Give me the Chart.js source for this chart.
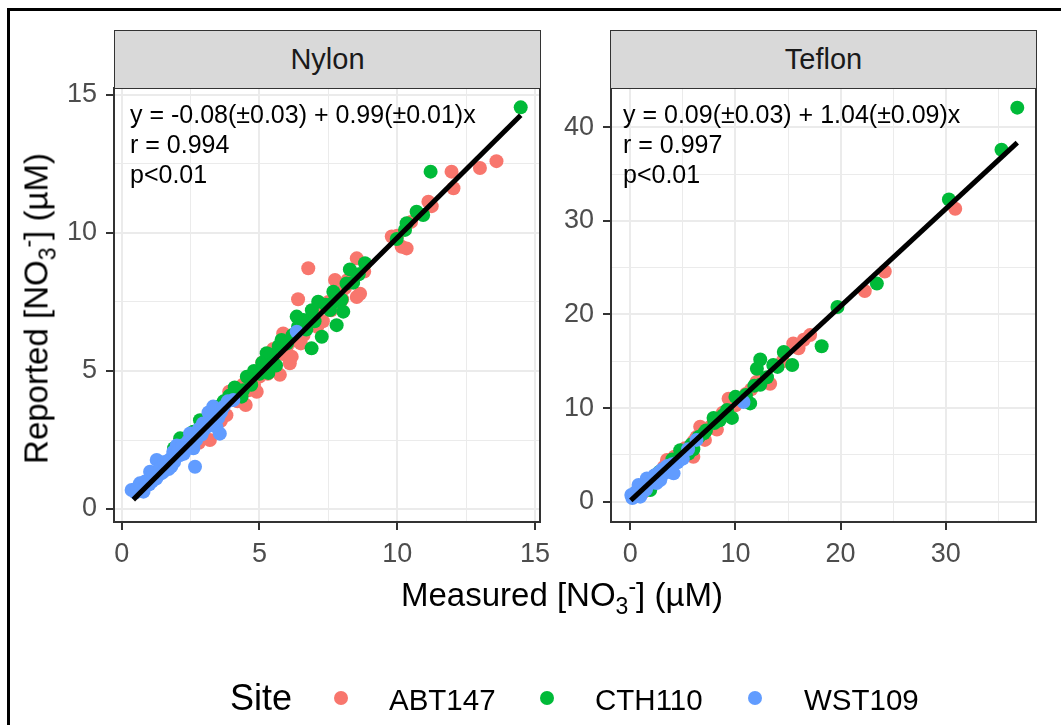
<!DOCTYPE html>
<html>
<head>
<meta charset="utf-8">
<script src="https://cdn.jsdelivr.net/npm/chart.js@4.4.1/dist/chart.umd.min.js"></script>
<style>
  html, body { margin: 0; padding: 0; background: #fff; }
  body { width: 1061px; height: 725px; position: relative; overflow: hidden;
         font-family: "Liberation Sans", Arial, sans-serif; }
  canvas { position: absolute; left: 0; top: 0; }
  .frame { position: absolute; left: 7px; top: 8px; width: 1100px; height: 800px;
           border: 3px solid #000; }
  .strip { position: absolute; top: 30px; height: 59px; background: #d9d9d9;
           border: 1.5px solid #333; box-sizing: border-box; text-align: center;
           font-size: 29px; line-height: 56px; color: #1a1a1a; }
  .note { position: absolute; font-size: 25px; line-height: 30px; color: #000; white-space: pre; }
  .ttl { position: absolute; font-size: 33px; line-height: 33px; height: 33px; color: #000; white-space: nowrap; }
  .sub { position: relative; font-size: 23px; top: 8px; }
  .sup { position: relative; font-size: 23px; top: -12px; }
  .lg { position: absolute; font-size: 29.5px; line-height: 30px; color: #000; white-space: nowrap; }
  .dot { position: absolute; width: 14px; height: 14px; border-radius: 50%; }
</style>
</head>
<body>
<div class="frame"></div>
<canvas id="nylon" width="1061" height="725"></canvas>
<canvas id="teflon" width="1061" height="725"></canvas>

<div class="strip" style="left:114px;width:427px;">Nylon</div>
<div class="strip" style="left:610px;width:427px;">Teflon</div>

<div class="note" style="left:130px;top:99px;">y = -0.08(±0.03) + 0.99(±0.01)x
r = 0.994
p&lt;0.01</div>
<div class="note" style="left:623px;top:99px;">y = 0.09(±0.03) + 1.04(±0.09)x
r = 0.997
p&lt;0.01</div>

<div class="ttl" style="left:401px;top:578px;">Measured [NO<span class="sub">3</span><span class="sup">-</span>] (µM)</div>
<div class="ttl" style="left:-174px;top:292px;width:420px;text-align:center;transform:rotate(-90deg);">Reported [NO<span class="sub">3</span><span class="sup">-</span>] (µM)</div>

<div class="lg" style="left:230px;top:680px;font-size:36px;line-height:36px;">Site</div>
<div class="dot" style="left:334px;top:691px;background:#F8766D;"></div>
<div class="lg" style="left:389px;top:685px;">ABT147</div>
<div class="dot" style="left:540px;top:691px;background:#00BA38;"></div>
<div class="lg" style="left:595px;top:685px;">CTH110</div>
<div class="dot" style="left:748px;top:691px;background:#619CFF;"></div>
<div class="lg" style="left:804px;top:685px;">WST109</div>

<script>
// site colours (ggplot hue defaults)
const sites = ['ABT147', 'CTH110', 'WST109'];
const siteColors = ['#F8766D', '#00BA38', '#619CFF'];

// Nylon panel, [measured, reported]
const nylonABT = [[1.8,1.7],[2.2,2.1],[2.4,2.6],[2.6,2.3],[2.8,2.4],[2.9,2.6],[3.0,3.0],[3.2,2.5],[3.4,3.1],[3.5,3.6],
  [3.6,3.2],[3.8,3.4],[3.9,4.25],[4.1,4.2],[4.2,3.9],[4.3,4.0],[4.4,4.5],[4.5,3.77],[4.6,4.3],[4.8,4.5],
  [4.9,4.25],[5.0,4.8],[5.1,5.3],[5.2,5.0],[5.3,4.9],[5.4,5.3],[5.5,5.8],[5.74,4.86],[5.6,5.6],[5.86,6.36],
  [5.9,5.6],[6.1,5.28],[6.17,5.52],[6.0,5.9],[6.3,6.1],[6.5,6.0],[6.4,7.6],[6.77,8.72],[6.6,6.3],[6.8,6.7],
  [7.0,7.0],[7.1,6.6],[7.2,7.3],[7.3,6.8],[7.5,7.5],[7.6,7.2],[7.74,8.3],[7.9,7.4],[8.0,7.6],[8.1,8.0],
  [8.2,8.3],[8.53,9.08],[8.53,7.68],[8.65,7.8],[8.4,8.3],[8.8,8.6],[9.8,9.87],[10.0,9.9],[10.16,9.5],[10.34,9.44],
  [10.5,10.4],[11.13,11.13],[11.25,10.97],[12.04,11.62],[11.97,12.22],[13.0,12.35],[13.6,12.6]];
const nylonCTH = [[1.9,2.2],[2.12,2.56],[2.3,2.5],[2.6,2.8],[2.84,3.22],[3.1,3.3],[3.3,3.4],[3.5,3.7],[3.7,3.9],[3.9,4.1],
  [4.1,4.4],[4.35,4.07],[4.4,4.3],[4.54,4.79],[4.7,4.5],[4.8,5.0],[5.0,4.9],[5.1,5.3],[5.26,5.64],[5.32,4.93],
  [5.4,5.6],[5.5,5.3],[5.6,5.2],[5.7,5.9],[5.8,6.12],[6.0,6.0],[6.2,6.3],[6.35,6.97],[6.4,6.6],[6.6,6.85],
  [6.7,6.5],[6.89,5.82],[6.9,7.2],[7.0,6.8],[7.13,7.51],[7.26,6.24],[7.4,7.4],[7.56,7.21],[7.68,7.87],[7.7,7.5],
  [7.8,6.66],[7.98,7.58],[8.04,7.15],[8.16,8.17],[8.28,8.68],[8.4,8.2],[8.6,8.5],[8.83,8.9],[9.98,9.78],
  [10.28,10.11],[10.34,10.35],[10.7,10.77],[10.94,10.65],[11.21,12.22],[14.48,14.55]];
const nylonWST = [[0.36,0.69],[0.5,0.6],[0.55,0.75],[0.66,0.93],[0.7,0.7],[0.79,0.63],[0.85,1.0],[0.9,0.85],[1.0,0.9],
  [1.03,1.35],[1.1,1.0],[1.15,1.3],[1.25,1.1],[1.27,1.78],[1.3,1.2],[1.4,1.5],[1.45,1.3],[1.51,1.35],[1.55,1.7],
  [1.6,1.6],[1.7,1.45],[1.75,1.8],[1.8,1.55],[1.87,2.07],[1.9,1.7],[1.95,2.0],[2.0,2.3],[2.05,2.1],[2.1,1.95],
  [2.2,2.3],[2.25,2.0],[2.36,2.19],[2.4,2.45],[2.48,2.74],[2.5,2.3],[2.55,2.6],[2.6,2.2],[2.66,1.53],[2.7,2.5],
  [2.8,2.9],[2.9,2.7],[2.95,3.1],[3.0,2.9],[3.1,3.0],[3.15,3.5],[3.2,3.3],[3.3,3.2],[3.32,3.71],[3.4,3.6],
  [3.44,2.97],[3.5,3.3],[3.56,2.73],[3.6,3.5],[3.7,3.7],[3.85,3.9],[4.05,3.95],[6.35,6.42]];
const nylonFit = [[0.42,0.34],[14.48,14.26]];

// Teflon panel
const teflonABT = [[1.0,1.2],[1.2,1.0],[1.5,1.6],[1.8,2.0],[2.0,2.2],[2.2,2.6],[2.5,2.4],[2.8,3.0],[3.0,3.3],[3.2,3.7],
  [3.49,4.45],[3.8,4.0],[4.0,4.2],[4.2,4.8],[4.5,4.6],[4.8,5.0],[5.0,5.4],[5.2,5.7],[5.5,5.2],[5.8,6.0],
  [6.0,4.8],[6.0,6.4],[6.3,6.9],[6.65,8.0],[6.8,7.2],[7.1,6.6],[7.5,7.9],[7.8,8.2],[8.24,7.7],[8.8,9.5],
  [9.35,11.0],[10.0,10.3],[10.5,10.8],[11.0,11.5],[11.5,12.0],[12.0,12.8],[12.5,13.2],[13.3,12.6],[14.0,14.5],
  [14.5,15.0],[15.5,16.9],[16.0,16.4],[16.5,17.3],[17.1,17.8],[22.3,22.5],[24.2,24.6],[30.9,31.3]];
const teflonCTH = [[0.5,0.7],[0.8,0.9],[1.2,1.4],[1.5,1.8],[1.9,1.25],[2.2,2.0],[2.5,2.9],[2.8,3.2],[3.0,3.1],[3.5,3.4],
  [4.0,4.5],[4.3,4.3],[4.75,5.5],[5.2,5.0],[5.55,5.15],[5.8,6.1],[6.0,5.6],[6.5,6.9],[7.0,7.3],[7.2,7.6],
  [7.92,8.95],[8.0,8.4],[8.5,8.7],[8.8,9.2],[9.2,9.8],[9.67,8.95],[10.0,11.2],[10.5,11.0],[11.0,11.4],[11.4,10.5],
  [11.8,12.4],[12.04,14.2],[12.36,15.2],[12.36,12.5],[13.0,13.3],[13.6,14.6],[14.0,14.4],[14.6,16.0],[15.4,14.6],
  [18.2,16.6],[19.7,20.8],[23.45,23.3],[30.3,32.3],[35.3,37.6],[36.8,42.1]];
const teflonWST = [[0.1,0.72],[0.2,0.4],[0.3,0.5],[0.4,0.8],[0.5,1.0],[0.6,0.6],[0.7,1.2],[0.79,1.78],[0.9,1.4],
  [0.95,0.54],[1.0,0.8],[1.2,1.1],[1.3,1.6],[1.5,1.3],[1.58,2.49],[1.7,2.0],[1.8,1.9],[2.0,2.1],[2.2,2.5],
  [2.3,2.8],[2.5,2.0],[2.6,2.6],[2.7,3.1],[2.85,2.3],[3.0,3.4],[3.2,3.0],[3.3,3.6],[3.5,3.8],[3.8,3.5],
  [4.0,4.0],[4.12,3.03],[4.5,4.2],[5.0,4.6],[5.5,5.6],[6.3,6.6],[10.77,10.65]];
const teflonFit = [[0.05,0.14],[36.8,38.36]];

// axis ticks
const nylonMajor = [0, 5, 10, 15];
const nylonMinor = [2.5, 7.5, 12.5];
const nylonLabels = ['0', '5', '10', '15'];
const teflonXMajor = [0, 10, 20, 30];
const teflonXMinor = [5, 15, 25, 35];
const teflonXLabels = ['0', '10', '20', '30'];
const teflonYMajor = [0, 10, 20, 30, 40];
const teflonYMinor = [5, 15, 25, 35];
const teflonYLabels = ['0', '10', '20', '30', '40'];

const panelBox = {
  id: 'panelBox',
  afterDraw(chart) {
    const a = chart.chartArea, ctx = chart.ctx;
    ctx.save();
    ctx.strokeStyle = '#333';
    ctx.lineWidth = 2;
    ctx.strokeRect(a.left, a.top, a.right - a.left, a.bottom - a.top);
    ctx.restore();
  }
};

function axis(min, max, major, minor, labels, isX, size) {
  const all = major.concat(minor).sort((a, b) => a - b);
  return {
    type: 'linear',
    position: isX ? 'bottom' : 'left',
    min: min, max: max,
    afterBuildTicks: s => { s.ticks = all.map(v => ({ value: v })); },
    afterFit: s => { if (isX) s.height = size; else s.width = size; },
    border: { display: false },
    grid: {
      color: '#EBEBEB',
      lineWidth: c => major.includes(c.tick && c.tick.value) ? 2 : 1,
      drawTicks: true,
      tickLength: 8,
      tickWidth: 2,
      tickColor: c => major.includes(c.tick && c.tick.value) ? '#333' : 'rgba(0,0,0,0)'
    },
    ticks: {
      autoSkip: false,
      maxRotation: 0,
      padding: isX ? 8 : 9,
      color: '#4D4D4D',
      font: { family: '"Liberation Sans", Arial, sans-serif', size: 27 },
      callback: v => { const i = major.indexOf(v); return i >= 0 ? labels[i] : ''; }
    }
  };
}

function pts(arr) { return arr.map(p => ({ x: p[0], y: p[1] })); }

function panel(id, abt, cth, wst, fit, xs, ys, pad) {
  const siteData = [abt, cth, wst];
  const ds = [{
    type: 'line', data: pts(fit), borderColor: '#000', borderWidth: 5,
    pointRadius: 0, showLine: true, fill: false, order: 0
  }];
  siteData.forEach((d, i) => {
    ds.push({
      type: 'scatter', label: sites[i], data: pts(d),
      backgroundColor: siteColors[i], borderWidth: 0,
      pointRadius: 7, pointHoverRadius: 7, order: 3 - i
    });
  });
  return new Chart(document.getElementById(id), {
    type: 'scatter',
    data: { datasets: ds },
    options: {
      responsive: false,
      animation: false,
      layout: { padding: pad },
      plugins: { legend: { display: false }, tooltip: { enabled: false } },
      scales: { x: xs, y: ys }
    },
    plugins: [panelBox]
  });
}

panel('nylon', nylonABT, nylonCTH, nylonWST, nylonFit,
  axis(-0.28, 15.18, nylonMajor, nylonMinor, nylonLabels, true, 60),
  axis(-0.47, 15.25, nylonMajor, nylonMinor, nylonLabels, false, 114),
  { left: 0, top: 88, right: 521, bottom: 143 });

panel('teflon', teflonABT, teflonCTH, teflonWST, teflonFit,
  axis(-1.83, 38.58, teflonXMajor, teflonXMinor, teflonXLabels, true, 60),
  axis(-2.17, 44.2, teflonYMajor, teflonYMinor, teflonYLabels, false, 60),
  { left: 551, top: 88, right: 25, bottom: 143 });
</script>
</body>
</html>
